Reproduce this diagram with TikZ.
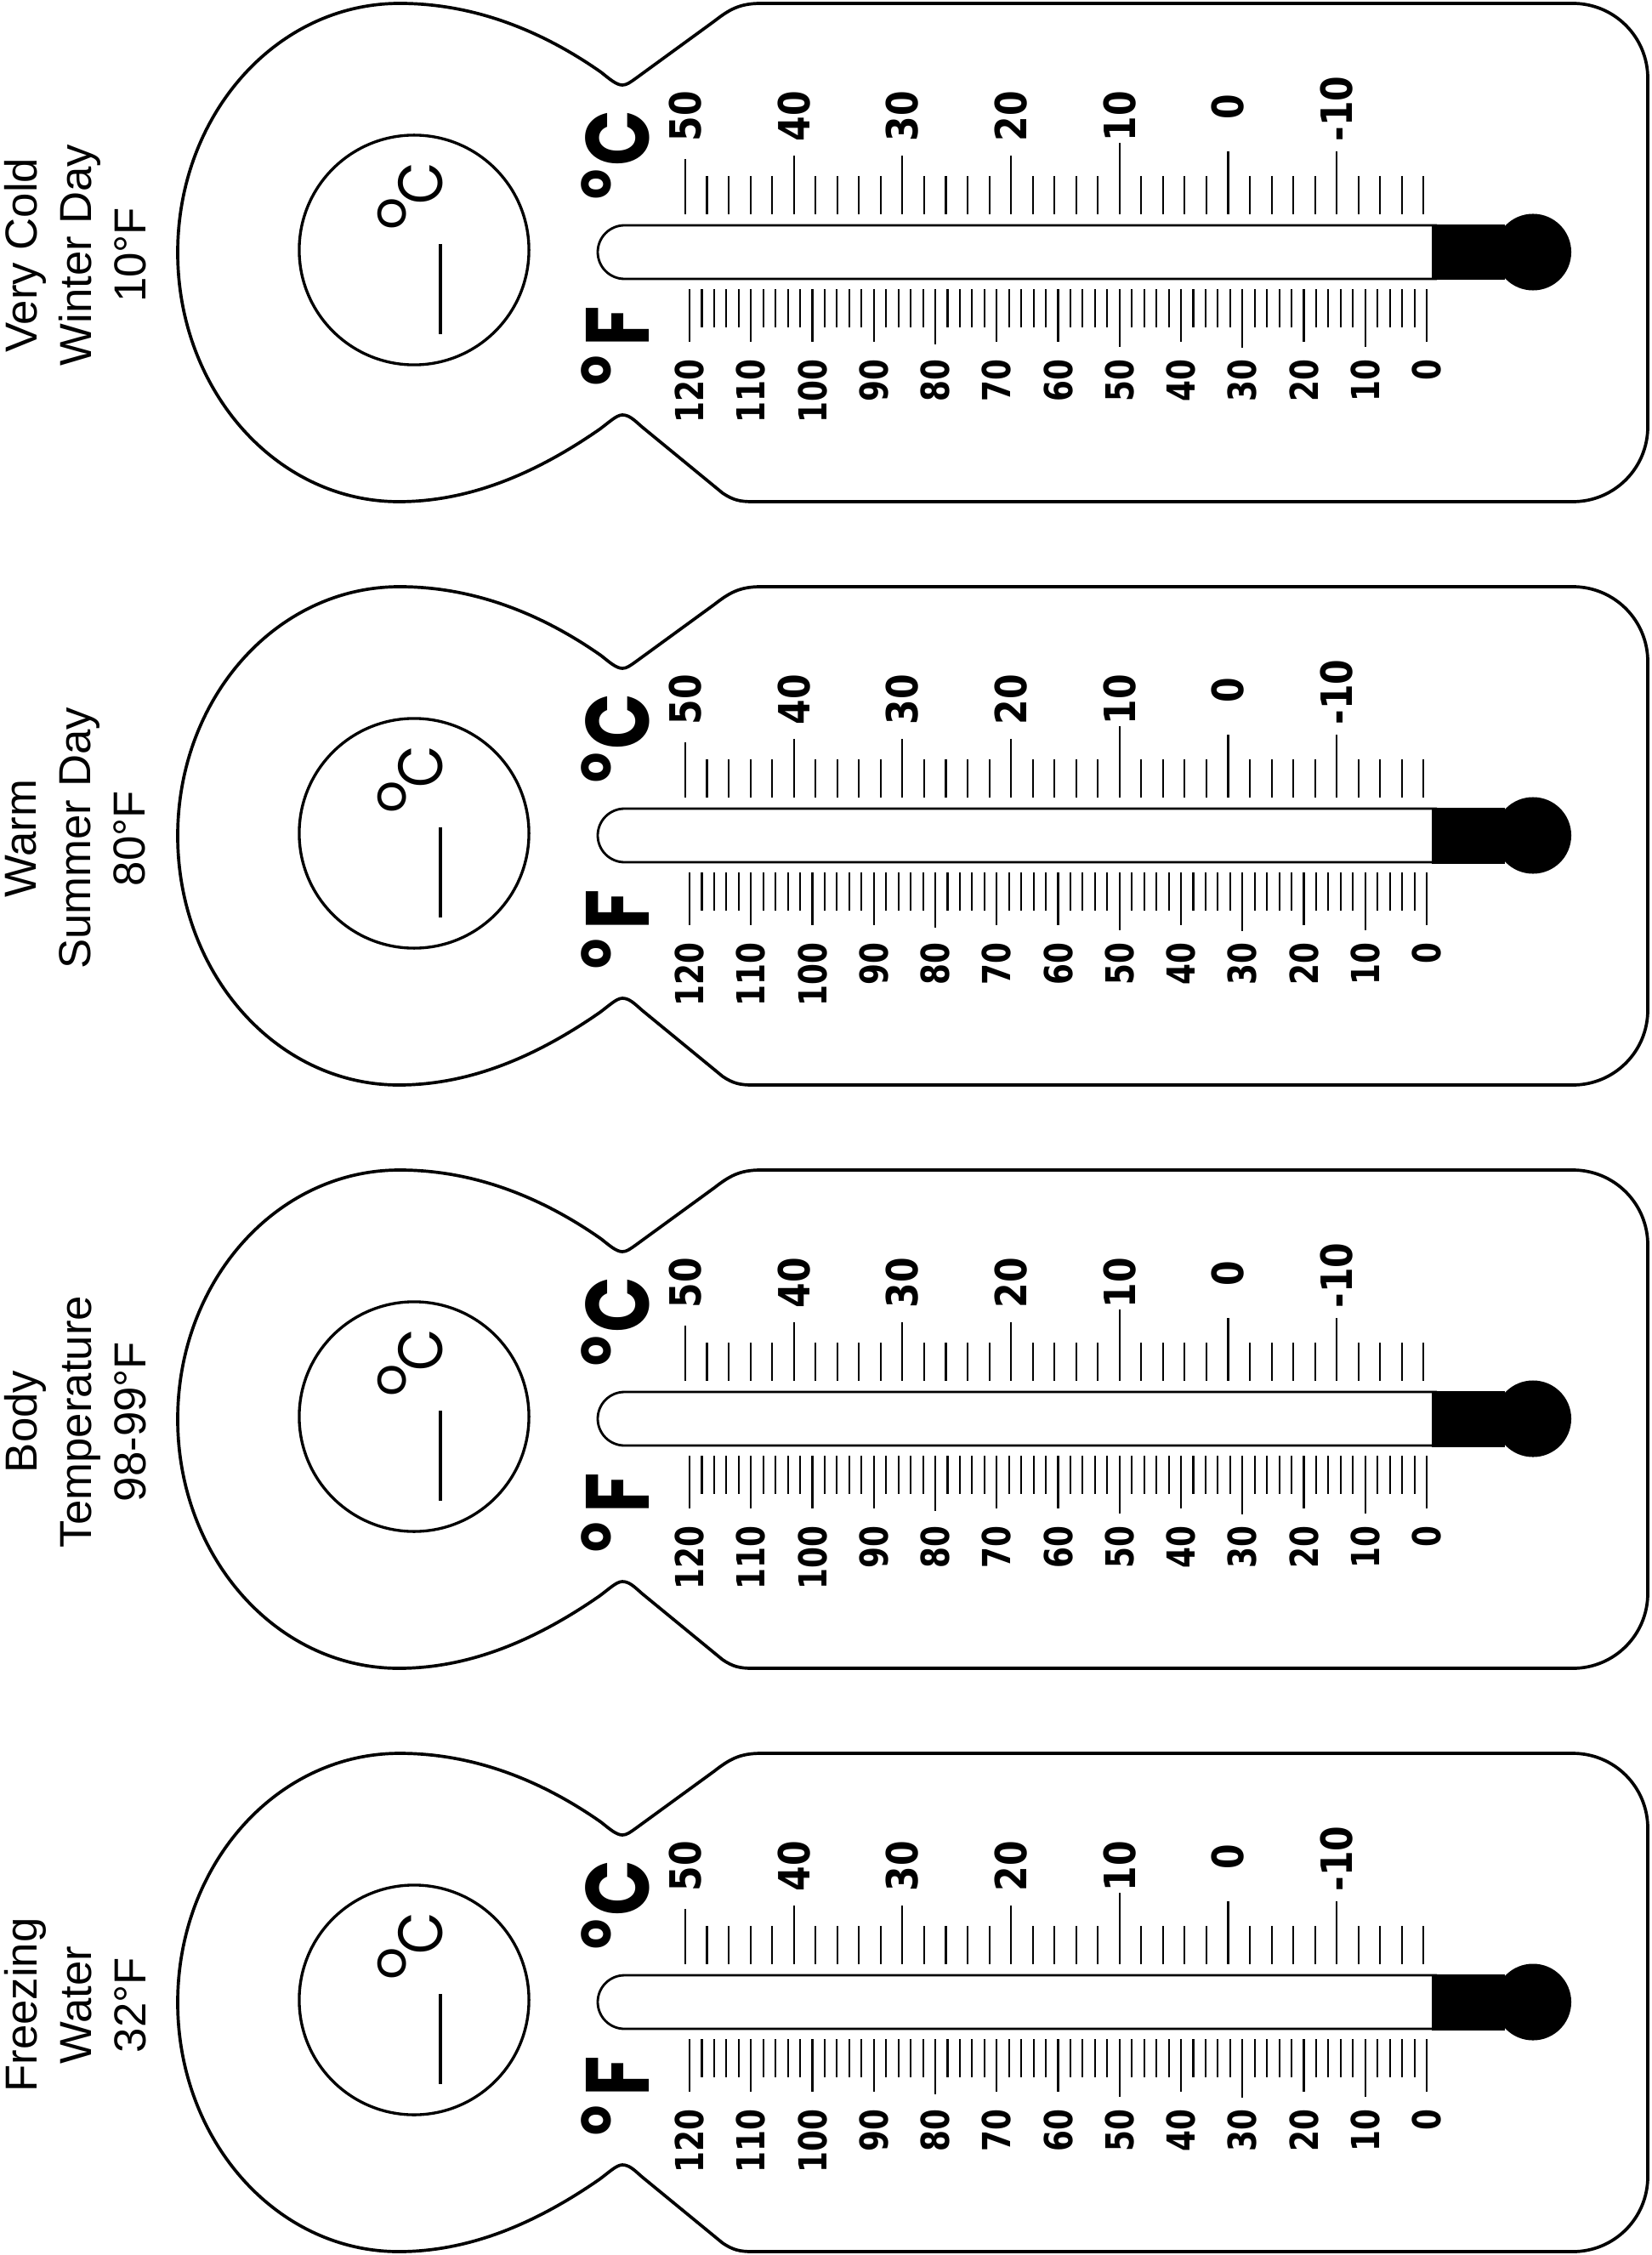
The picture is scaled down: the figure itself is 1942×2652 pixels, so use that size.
\documentclass[tikz,border=0pt]{standalone}
\usepackage{fontspec}
\setmainfont{Liberation Sans}
\newfontfamily\digfont{DejaVu Sans}
\newfontfamily\geofont{Poppins}
\begin{document}
\begin{tikzpicture}[x=0.01cm, y=-0.01cm,
  outline/.style={line width=1.05pt, line join=round},
  tubeline/.style={line width=0.8pt},
  tickline/.style={line width=0.6pt},
  dialline/.style={line width=0.95pt},
  clabel/.style={rotate=90, anchor=west, inner sep=0pt, font=\digfont\bfseries\fontsize{14.4}{16}\selectfont},
  flabel/.style={rotate=90, anchor=east, inner sep=0pt, font=\digfont\bfseries\fontsize{12.9}{15}\selectfont},
  tcaption/.style={rotate=90, align=center, inner sep=0pt, font=\fontsize{15}{18.2}\selectfont},
  bigletter/.style={rotate=90, anchor=base, inner sep=0pt, font=\geofont\bfseries\fontsize{30}{30}\selectfont},
  bigdeg/.style={rotate=90, anchor=base, inner sep=0pt, font=\geofont\bfseries\fontsize{17.5}{18}\selectfont},
  smallletter/.style={rotate=90, anchor=base, inner sep=0pt, font=\geofont\fontsize{21}{22}\selectfont},
  smalldeg/.style={rotate=90, anchor=base, inner sep=0pt, font=\geofont\fontsize{17}{18}\selectfont},
  dial/.style={circle, draw, dialline, minimum size=2.7cm, inner sep=0pt}
]
\useasboundingbox (0,0) rectangle (1942,2652);
\fill[white] (0,0) rectangle (1942,2652);
\foreach \i/\la/\lb/\lc in {0/Very Cold/Winter Day/10°F, 1/Warm/Summer Day/80°F, 2/Body/Temperature/98-99°F, 3/Freezing/Water/32°F}{
\begin{scope}[shift={(0,\i*686)}]
  % outer outline
  \draw[outline] (1300,590) [rounded corners=0.88cm] -- (1938,590) -- (1938,4) -- (1300,4) [sharp corners] -- (895,4)
    .. controls (870,4) and (858,11) .. (840,25)
    -- (748,92)
    .. controls (741,97) and (737,100) .. (732,100)
    .. controls (725,100) and (717,93) .. (707,85)
    .. controls (640,38) and (560,4) .. (470,4)
    .. controls (325,4) and (209,135) .. (209,297)
    .. controls (209,459) and (325,590) .. (469,590)
    .. controls (560,590) and (640,550) .. (705,505)
    .. controls (716,497) and (725,488) .. (732,488)
    .. controls (740,488) and (746,494) .. (755,502)
    -- (850,580)
    .. controls (862,588) and (870,590) .. (885,590)
    -- cycle;
  % caption
  \node[tcaption] (cap\i) at (89,300) {\la\\\lb\\\lc};
  % dial
  \node[dial] (dial\i) at (487,294) {};
  \node[smallletter] (dc\i) at (520,215.5) {\scalebox{0.87}[1]{C}};
  \node[smalldeg] (dd\i) at (477,251.5) {o};
  \draw[dialline] (518,287) -- (518,393);
  % big unit letters
  \node[bigletter] (bc\i) at (763,162.5) {\scalebox{0.82}[1]{C}};
  \node[bigdeg] (bcd\i) at (718,216.5) {\scalebox{0.9}[1]{o}};
  \node[bigletter] (bf\i) at (763,383.5) {\scalebox{0.82}[1]{F}};
  \node[bigdeg] (bfd\i) at (718,436) {\scalebox{0.9}[1]{o}};
  % tube
  \draw[tubeline, rounded corners=0.315cm] (1690,265) -- (703,265) -- (703,328) -- (1690,328);
  \fill (1684,264) rectangle (1770,329.5);
  \fill (1803,296.5) circle[radius=0.45cm];
  % celsius ticks
  \foreach \t in {48,46,...,-18}{
    \pgfmathsetmacro\xx{806+(50-\t)*12.77}
    \draw[tickline] (\xx,207) -- (\xx,252);
  }
  \foreach \t/\tp in {50/187,40/183,30/183,20/183,10/168,0/178,-10/178}{
    \pgfmathsetmacro\xx{806+(50-\t)*12.77}
    \draw[tickline] (\xx,\tp) -- (\xx,252);
  }
  \foreach \t/\ly [count=\n] in {50/167,40/167,30/167,20/167,10/167,0/141,-10/167}{
    \pgfmathsetmacro\xx{806+(50-\t)*12.77}
    \node[clabel] (cl\i n\n) at (\xx,\ly) {\scalebox{0.84}[1]{\t}};
  }
  % fahrenheit ticks
  \foreach \f in {118,116,...,2}{
    \pgfmathsetmacro\xx{811+(120-\f)*7.225}
    \draw[tickline] (\xx,340) -- (\xx,385);
  }
  \foreach \f/\fb in {120/402,110/402,100/402,90/402,80/405,70/402,60/402,50/408,40/402,30/409,20/402,10/408,0/402}{
    \pgfmathsetmacro\xx{811+(120-\f)*7.225}
    \draw[tickline] (\xx,340) -- (\xx,\fb);
  }
  \foreach \f [count=\n] in {120,110,...,0}{
    \pgfmathsetmacro\xx{811+(120-\f)*7.225}
    \node[flabel] (fl\i n\n) at (\xx,422) {\scalebox{0.79}[1]{\f}};
  }
\end{scope}
}
\end{tikzpicture}
\end{document}
